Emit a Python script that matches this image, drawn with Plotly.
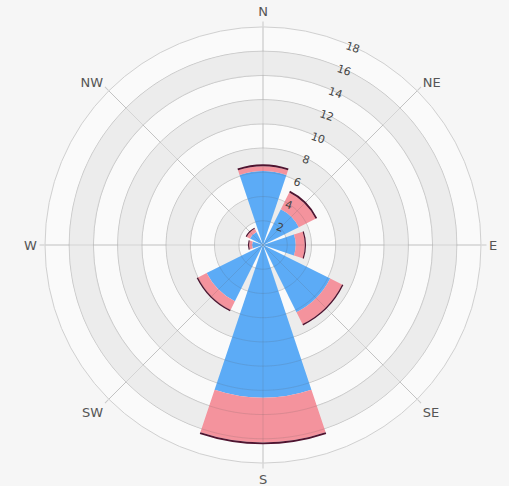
import plotly.graph_objects as go

directions = ["N", "NE", "E", "SE", "S", "SW", "W", "NW"]
dir_angles = [0, 45, 90, 135, 180, 225, 270, 315]

blue_vals = [6.1, 3.3, 2.7, 6.2, 12.6, 5.2, 0.9, 1.2]
pink_vals = [0.4, 1.55, 0.75, 1.1, 3.7, 0.8, 0.25, 0.3]
dark_vals = [0.15, 0.15, 0.1, 0.12, 0.15, 0.12, 0.1, 0.1]

radial_ticks = [2, 4, 6, 8, 10, 12, 14, 16, 18]
band_starts = [2, 6, 10, 14]
band_size = 2
r_max = 18

pink_base = [b for b in blue_vals]
dark_base = [b + p for b, p in zip(blue_vals, pink_vals)]

fig = go.Figure()

# alternating grey background rings
fig.add_trace(go.Barpolar(
    r=[band_size] * len(band_starts), base=band_starts,
    theta=[0] * len(band_starts), width=[360] * len(band_starts),
    marker=dict(color="#ececec", line=dict(width=0)),
    hoverinfo="skip", showlegend=False))

bar_w = 37
fig.add_trace(go.Barpolar(r=blue_vals, theta=dir_angles, width=[bar_w] * 8,
                          marker=dict(color="#5cabf6", line=dict(width=0)),
                          name="blue", showlegend=False))
fig.add_trace(go.Barpolar(r=pink_vals, base=pink_base, theta=dir_angles, width=[bar_w] * 8,
                          marker=dict(color="#f4939d", line=dict(width=0)),
                          name="pink", showlegend=False))
fig.add_trace(go.Barpolar(r=dark_vals, base=dark_base, theta=dir_angles, width=[bar_w] * 8,
                          marker=dict(color="#4f1430", line=dict(width=0)),
                          name="dark", showlegend=False))

# grid lines drawn over the bars (as in the reference)
ring_r, ring_t = [], []
for t in radial_ticks[:-1]:
    for a in range(0, 362, 2):
        ring_r.append(t)
        ring_t.append(a)
    ring_r.append(None)
    ring_t.append(None)
for a in dir_angles:
    ring_r += [0, r_max, None]
    ring_t += [a, a, None]
fig.add_trace(go.Scatterpolar(r=ring_r, theta=ring_t, mode="lines",
                              line=dict(color="rgba(90,90,90,0.16)", width=1),
                              hoverinfo="skip", showlegend=False, connectgaps=False))

cx, cy, R = 263, 245, 218
W, H = 509, 486
fig.update_layout(
    width=W, height=H,
    margin=dict(l=0, r=0, t=0, b=0),
    paper_bgcolor="#f6f6f6",
    barmode="overlay",
    polar=dict(
        barmode="overlay",
        domain=dict(x=[(cx - R) / W, (cx + R) / W],
                    y=[(H - cy - R) / H, (H - cy + R) / H]),
        bgcolor="#fafafa",
        angularaxis=dict(
            direction="clockwise", rotation=90,
            tickmode="array", tickvals=dir_angles, ticktext=directions,
            ticks="outside", ticklen=5, tickcolor="#c8c8c8",
            showline=True, linecolor="#d0d0d0", linewidth=1,
            gridcolor="#d8d8d8", gridwidth=1,
            tickfont=dict(family="DejaVu Sans", size=13, color="#555555"),
            layer="above traces"),
        radialaxis=dict(
            range=[0, r_max], tickmode="array", tickvals=radial_ticks,
            angle=69, tickangle=88, showline=False, ticks="",
            gridcolor="#d8d8d8", gridwidth=1,
            tickfont=dict(family="DejaVu Sans", size=11, color="#444444"),
            layer="above traces"),
    ),
)

fig.write_html("out.html", config={"displayModeBar": False},
               post_script="document.body.style.margin='0';")
